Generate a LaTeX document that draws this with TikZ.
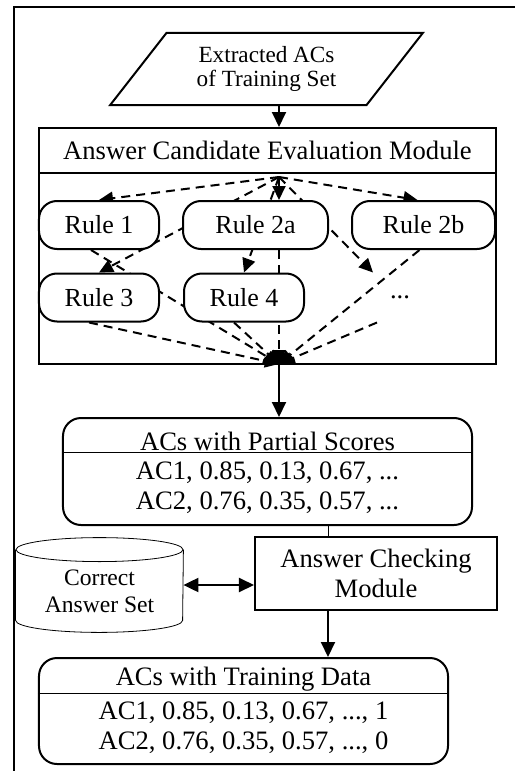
\documentclass[tikz,border=0pt]{standalone}
\usepackage{fontspec}
\setmainfont{Liberation Serif}
\usetikzlibrary{positioning,arrows.meta,shapes.geometric,calc}
\pgfdeclarelayer{bg}
\pgfsetlayers{bg,main}

\tikzset{
  txt/.style={font=\fontsize{13.3bp}{15bp}\selectfont, inner sep=0pt, align=center},
  box/.style={draw, line width=1bp, fill=white, inner sep=0pt},
  rulebox/.style={box, rounded corners=9bp, minimum height=24bp, font=\fontsize{13bp}{15bp}\selectfont},
  dsh/.style={line width=1bp, dash pattern=on 4.5bp off 3bp},
  tip/.style={-{Triangle[length=7bp,width=6.5bp]}},
  arr/.style={line width=1bp, -{Triangle[length=7.5bp,width=7bp]}},
  dblarr/.style={line width=1bp, {Triangle[length=7.5bp,width=7bp]}-{Triangle[length=7.5bp,width=7bp]}},
}

\begin{document}
\begin{tikzpicture}[x=0.5bp,y=-0.5bp,line width=1bp]
\useasboundingbox (0,0) rectangle (515,771);
% frame
\draw (14,771) -- (14,7) -- (515,7);
% input set
\node[trapezium, trapezium left angle=49, trapezium right angle=131,
  trapezium stretches=true, draw, minimum width=156.5bp, minimum height=36bp,
  align=center, inner sep=0pt, font=\fontsize{11.6bp}{12bp}\selectfont]
  (src) at (266.5,69) {Extracted ACs\\of Training Set};
% evaluation module
\node[box, txt, minimum width=228.5bp, minimum height=22.5bp] (hdr) at (267.5,150.5)
  {Answer Candidate Evaluation Module};
\node[draw, minimum width=228.5bp, minimum height=95.5bp] (evb) at (267.5,268.5) {};
\coordinate (th) at (279,177);
\coordinate (bh) at (279,364);
\draw[arr] (th |- src.south) -- (th |- hdr.north);
% rules
\node[rulebox, minimum width=60bp] (r1) at (99,225) {Rule 1};
\node[rulebox, minimum width=72.5bp] (r2a) at (255.5,225) {Rule 2a};
\node[rulebox, minimum width=71.5bp] (r2b) at (423.5,225) {Rule 2b};
\node[rulebox, minimum width=60bp] (r3) at (99,297.5) {Rule 3};
\node[rulebox, minimum width=60bp] (r4) at (244,297.5) {Rule 4};
\node[txt, minimum width=60bp, minimum height=24bp] (dots) at (400,297.5) {...};
\begin{pgfonlayer}{bg}
% from the top of the module
\draw[dsh,tip] (th) -- (r1.north);
\draw[dsh,tip] (th) -- (th |- r2a.north);
\draw[dsh,tip] (th) -- ($(r2b.north)+(-6,0)$);
\draw[dsh,tip] (th) -- (r3.north);
\draw[dsh,tip] (th) -- (r4.north);
\draw[dsh,tip] (th) -- ($(dots.north)+(-27,0)$);
% into the bottom of the module
\draw[dsh,tip] ($(r1.south)+(-8,0)$) -- (bh);
\draw[dsh,tip] (th |- r2a.south) -- (bh);
\draw[dsh,tip] ($(r2b.south)+(-4,0)$) -- (bh);
\draw[dsh,tip] ($(r3.south)+(-10,0)$) -- (bh);
\draw[dsh,tip] ($(r4.south)+(-10,0)$) -- (bh);
\draw[dsh,tip] ($(dots.south)+(-23,0)$) -- (bh);
\end{pgfonlayer}
% heads piled up at the bottom
\begin{scope}
\clip (bh) ++(-20,-14) rectangle ++(40,14);
\fill (bh) ellipse [x radius=8.5bp, y radius=6bp];
\end{scope}
% partial scores
\node[box, rounded corners=9bp, minimum width=204.5bp, minimum height=53.5bp] (part) at (267.5,471.5) {};
\node[txt] (parthd) at (267.5,441) {ACs with Partial Scores};
\draw ($(part.north west)+(0,35)$) -- ($(part.north east)+(0,35)$);
\node[txt] (partv) at (267.5,488) {AC1, 0.85, 0.13, 0.67, ...\\AC2, 0.76, 0.35, 0.57, ...};
\draw[arr] (bh) -- (bh |- part.north);
% answer checking
\node[box, txt, minimum width=121bp, minimum height=36.5bp] (chk) at (376,573.5) {Answer Checking\\Module};
\coordinate (sp) at (328,525);
\draw (part.south -| sp) -- (chk.north -| sp);
% correct answer set
\node[minimum width=83.5bp, minimum height=47bp, inner sep=0pt] (db) at (99.5,585) {};
\draw ($(db.north)+(0,12)$) ellipse [x radius=41.75bp, y radius=6bp];
\draw ($(db.north west)+(0,12)$) -- ($(db.south west)+(0,-12)$)
  arc[start angle=180, end angle=360, x radius=41.75bp, y radius=6bp]
  -- ($(db.north east)+(0,12)$);
\node[txt, font=\fontsize{11.8bp}{13.5bp}\selectfont] (dbt) at (99.5,591.5) {Correct\\Answer Set};
\draw[dblarr] (db.east) -- (db.east -| chk.west);
% training data
\node[box, rounded corners=9bp, minimum width=204.5bp, minimum height=53bp] (train) at (243.5,711) {};
\node[txt] (trainhd) at (243.5,679) {ACs with Training Data};
\draw ($(train.north west)+(0,36)$) -- ($(train.north east)+(0,36)$);
\node[txt] (trainv) at (243.5,727.5) {AC1, 0.85, 0.13, 0.67, ..., 1\\AC2, 0.76, 0.35, 0.57, ..., 0};
\draw[arr] (chk.south -| sp) -- (train.north -| sp);
\end{tikzpicture}
\end{document}
